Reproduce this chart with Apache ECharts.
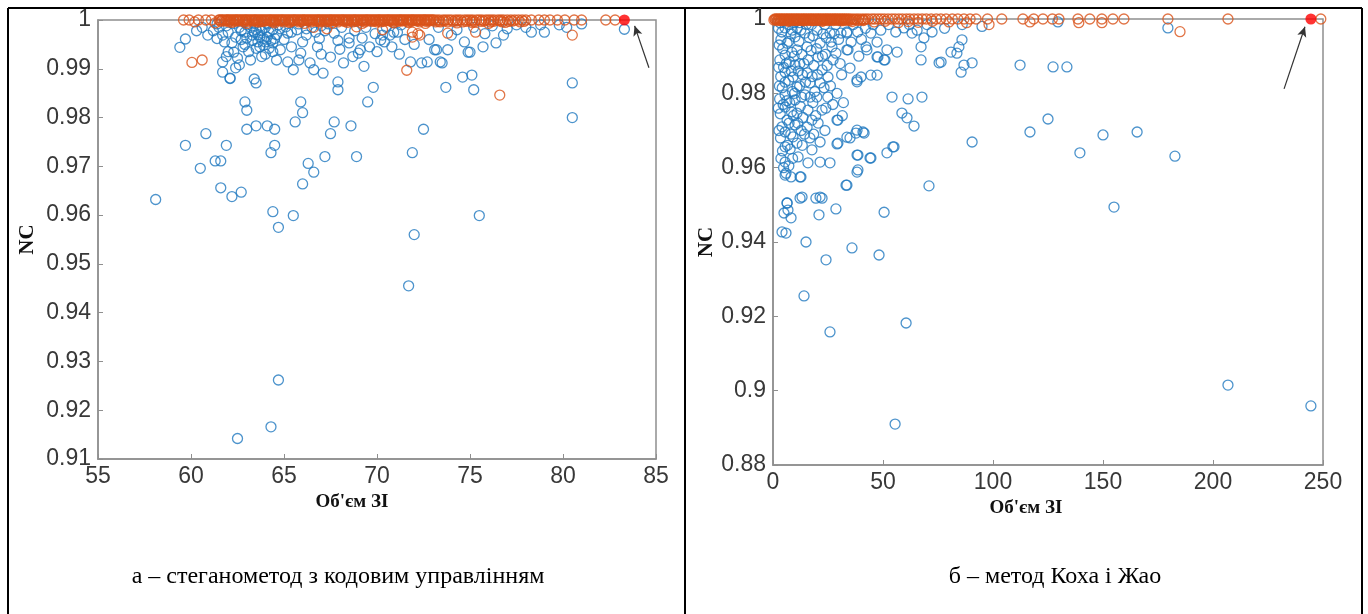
<!DOCTYPE html>
<html>
<head>
<meta charset="utf-8">
<script src="https://cdn.jsdelivr.net/npm/echarts@6/dist/echarts.min.js"></script>
<style>html,body{margin:0;padding:0;background:#fff}#c{width:1368px;height:614px}</style>
</head>
<body>
<div id="c"></div>
<script>
// ---------- DATA: panel а (стеганометод з кодовим управлінням) ----------
const aXAxis = { min: 55, max: 85, step: 5 };
const aYAxis = { min: 0.91, max: 1, step: 0.01 };

const aBlue = [
 [58.1,0.9632],[59.7,0.9743],[59.4,0.9944],[59.7,0.9961],[60.5,0.9696],[60.8,0.9767],[61.3,0.9711],[61.6,0.9711],
 [61.6,0.9656],[62.2,0.9638],[62.7,0.9647],[61.9,0.9743],[62.9,0.9832],[63.0,0.9815],[63.0,0.9776],[63.5,0.9783],
 [64.1,0.9783],[64.5,0.9776],[64.5,0.9743],[64.3,0.9728],[64.4,0.9607],[64.7,0.9575],[65.5,0.9599],[64.3,0.9166],
 [62.5,0.9142],[64.7,0.9262],[71.7,0.9455],[72.0,0.9560],[71.9,0.9728],[75.5,0.9599],[80.5,0.9800],[80.5,0.9871],
 [66.0,0.9664],[66.3,0.9706],[66.6,0.9688],[67.2,0.9720],[67.5,0.9767],[67.7,0.9791],[68.6,0.9783],[68.9,0.9720],
 [65.9,0.9832],[66.0,0.9810],[65.6,0.9791],[67.9,0.9857],[67.9,0.9873],[63.4,0.9879],[63.5,0.9871],[62.1,0.9880],
 [69.8,0.9862],[69.5,0.9832],[72.5,0.9776],[73.7,0.9862],[75.1,0.9887],[75.2,0.9857],
 [60.9,0.9969],[61.7,0.9969],[61.7,0.9914],[61.7,0.9893],[62.1,0.9881],[62.3,0.9934],[62.5,0.9922],[62.6,0.9908],
 [62.2,0.9953],[63.0,0.9963],[63.3,0.9969],[63.5,0.9980],[63.2,0.9918],[63.7,0.9945],[64.1,0.9965],[64.4,0.9953],
 [64.8,0.9939],[64.6,0.9918],[65.2,0.9973],[65.4,0.9945],[65.2,0.9914],[65.5,0.9898],[65.9,0.9932],[66.2,0.9969],
 [66.4,0.9912],[66.6,0.9898],[66.8,0.9945],[67.1,0.9891],[67.5,0.9924],[67.7,0.9973],[68.2,0.9912],[68.5,0.9953],
 [69.0,0.9932],[69.2,0.9963],[69.6,0.9945],[70.2,0.9959],[70.7,0.9969],[71.1,0.9975],[72.4,0.9912],[73.1,0.9939],
 [73.5,0.9912],[74.0,0.9969],[74.6,0.9883],[75.0,0.9934],[68.5,0.9963],[69.1,0.9939],[70.4,0.9955],[70.3,0.9969],
 [70.9,0.9975],[71.8,0.9914],[72.7,0.9914],[73.4,0.9914],[73.2,0.9939],[73.8,0.9939],[74.9,0.9934],[75.7,0.9945],
 [76.4,0.9953],[76.8,0.9969],[78.3,0.9975],[79.0,0.9975],[79.8,0.9990],[83.3,0.9981],
 [63.2,0.9985],[63.4,0.9975],[63.6,0.9970],[63.8,0.9978],[63.9,0.9962],[64.0,0.9985],[64.2,0.9975],[64.3,0.9958],
 [63.6,0.9955],[63.9,0.9948],[64.6,0.9970],[64.8,0.9982],[65.0,0.9960],[62.9,0.9975],[62.6,0.9985],[62.4,0.9965],
 [62.0,0.9975],[61.5,0.9985],[61.2,0.9978],[60.6,0.9985],[60.3,0.9978],[65.7,0.9980],[66.0,0.9955],[66.5,0.9985],
 [66.9,0.9962],[67.2,0.9978],[67.9,0.9958],[68.1,0.9985],[68.8,0.9978],[69.4,0.9985],[69.9,0.9972],[70.5,0.9985],
 [71.3,0.9990],[71.5,0.9960],[72.0,0.9950],[72.8,0.9960],[73.3,0.9985],[74.3,0.9980],[74.7,0.9955],[75.2,0.9985],
 [75.8,0.9972],[76.2,0.9988],[77.0,0.9982],[77.5,0.9990],[78.0,0.9985],[78.8,0.9990],[80.2,0.9985],[81.0,0.9992],
 [62.8,0.9945],[63.1,0.9935],[64.0,0.9930],[64.2,0.9942],[62.0,0.9935],[61.9,0.9925],[62.4,0.9902],[63.8,0.9925],
 [65.8,0.9918],[67.0,0.9930],[68.0,0.9940],[68.7,0.9925],[69.3,0.9905],[70.0,0.9935],[70.8,0.9945],[71.2,0.9930],
 [61.4,0.9992],[61.9,0.9988],[62.3,0.9993],[62.7,0.9978],[63.0,0.9990],[63.4,0.9993],[63.7,0.9987],[64.1,0.9992],
 [64.4,0.9980],[64.7,0.9990],[65.1,0.9986],[65.4,0.9975],[65.8,0.9992],[66.2,0.9982],[66.7,0.9975],[67.0,0.9988],
 [67.4,0.9992],[63.3,0.9958],[63.7,0.9965],[64.0,0.9955],[64.5,0.9962],[62.7,0.9960],[62.9,0.9950],[63.5,0.9942],
 [64.4,0.9935],[61.8,0.9955],[61.4,0.9962]
];
// orange points lying on NC = 1
const aOrangeTopX = [
 59.6,59.9,60.4,60.8,61.1,61.5,61.7,61.95,62.1,62.3,62.45,62.6,62.8,62.95,63.1,63.3,63.45,63.6,63.8,63.9,
 64.1,64.25,64.4,64.6,64.75,64.9,65.05,65.2,65.4,65.55,65.7,65.9,66.05,66.2,66.35,66.5,66.7,66.85,67.0,67.15,
 67.35,67.5,67.65,67.8,68.0,68.15,68.3,68.5,68.65,68.8,68.95,69.1,69.3,69.45,69.6,69.8,69.95,70.1,70.25,70.45,
 70.6,70.75,70.9,71.1,71.25,71.4,71.55,71.75,71.9,72.05,72.2,72.4,72.55,72.7,72.9,73.05,73.2,73.35,73.55,73.7,
 73.85,74.0,74.2,74.35,74.5,74.7,74.85,75.0,75.15,75.35,75.5,75.65,75.85,76.0,76.15,76.3,76.5,76.65,76.8,77.0,
 77.2,77.4,77.6,77.8,78.0,78.3,78.7,79.0,79.3,79.7,80.1,80.6,81.0,82.3,82.8,
 61.55,61.65,61.8,61.9,62.0,62.15,62.25,62.4,62.5,62.65,62.75,62.9,63.0,63.15,63.25,63.4,63.5,63.65,63.75,63.95,
 64.05,64.2,64.3,64.45,64.55,64.7,64.85,64.95,65.1,65.25,65.35,65.5,65.6,65.75,65.85,66.0,66.1,66.25,66.4,66.55,
 66.65,66.8,66.9,67.05,67.2,67.3,67.45,67.55,67.7,67.85,67.95,68.1,68.2,68.35,68.45,68.6,68.75,68.85,69.0,69.15,
 69.25,69.4,69.5,69.65,69.75,69.9,70.05,70.15,70.3,70.4,70.55,70.65,70.8,70.95,71.05,71.2,71.3,71.45,71.6,71.7,
 71.85,71.95,72.1,72.25,72.35,72.5,72.6,72.75,72.85,73.0
];
const aOrangeOther = [
 [60.05,0.9913],[60.6,0.9918],[71.6,0.9897],[76.6,0.9846],[80.5,0.9969],[71.9,0.9975],[72.3,0.9969],[73.8,0.9973],
 [75.3,0.9975],[71.9,0.9965],[72.2,0.9972],[60.2,0.9996],[61.3,0.9994],[62.2,0.9995],[63.0,0.9993],[63.7,0.9996],
 [64.5,0.9994],[65.3,0.9995],[66.1,0.9993],[66.9,0.9996],[67.6,0.9994],[68.4,0.9995],[69.2,0.9993],[70.0,0.9996],
 [70.9,0.9994],[71.7,0.9995],[72.6,0.9993],[73.4,0.9996],[74.3,0.9994],[75.1,0.9995],[76.0,0.9993],[76.9,0.9995],
 [66.6,0.9985],[67.3,0.9982],[68.9,0.9986],[70.3,0.9980],
 [61.6,0.9997],[61.85,0.9998],[62.05,0.9996],[62.35,0.9997],[62.55,0.9998],[62.85,0.9996],[63.05,0.9997],[63.35,0.9998],
 [63.55,0.9996],[63.85,0.9997],[64.0,0.9998],[64.35,0.9996],[64.5,0.9997],[64.8,0.9998],[65.0,0.9996],[65.3,0.9997],
 [65.45,0.9998],[65.8,0.9996],[65.95,0.9997],[66.3,0.9998],[66.45,0.9996],[66.75,0.9997],[66.95,0.9998],[67.25,0.9996],
 [67.4,0.9997],[67.75,0.9998],[67.9,0.9996],[68.25,0.9997],[68.4,0.9998],[68.7,0.9996],[68.9,0.9997],[69.2,0.9998],
 [69.35,0.9996],[69.7,0.9997],[69.85,0.9998],[70.2,0.9996],[70.35,0.9997],[70.7,0.9998],[70.85,0.9996],[71.15,0.9997],
 [71.35,0.9998],[71.65,0.9996],[71.85,0.9997],[72.15,0.9998],[72.3,0.9996],[72.65,0.9997],[72.8,0.9998],[73.15,0.9996],
 [73.3,0.9997],[73.6,0.9998],[73.8,0.9996],[74.1,0.9997],[74.3,0.9998],[74.6,0.9996],[74.8,0.9997],[75.1,0.9998],
 [75.25,0.9996],[75.6,0.9997],[75.75,0.9998],[76.1,0.9996],[76.25,0.9997],[76.6,0.9998],[76.75,0.9996],[77.1,0.9997],
 [77.3,0.9998],[77.7,0.9996],[77.9,0.9997]
];
const aHighlight = [[83.3, 1]];
const aArrow = [[84.62, 0.9902], [83.85, 0.9988]];

// ---------- DATA: panel б (метод Коха і Жао) ----------
const bXAxis = { min: 0, max: 250, step: 50 };
const bYAxis = { min: 0.88, max: 1, step: 0.02 };

const bBlue = [
 [14.1,0.9255],[24.1,0.9352],[35.9,0.9384],[48.2,0.9365],[25.9,0.9158],[60.5,0.9182],[55.5,0.8910],[206.8,0.9015],
 [244.5,0.8959],[112.3,0.9876],[127.3,0.9871],[133.6,0.9871],[125.0,0.9731],[116.8,0.9696],[139.5,0.9640],[150.0,0.9688],
 [165.5,0.9696],[155.0,0.9494],[182.7,0.9631],[179.5,0.9976],[129.5,0.9992],[4.1,0.9427],[15.0,0.9400],[5.0,0.9478],
 [6.8,0.9486],[8.2,0.9465],[6.4,0.9505],[12.3,0.9518],[19.5,0.9518],[22.3,0.9518],[20.9,0.9473],[28.6,0.9489],
 [50.5,0.9480],[33.2,0.9553],[70.9,0.9551],[5.9,0.9585],[8.2,0.9575],[12.7,0.9575],[38.2,0.9588],[38.2,0.9634],
 [44.5,0.9626],[51.8,0.9640],[55.0,0.9656],[29.1,0.9664],[33.6,0.9682],[37.7,0.9693],[41.4,0.9693],[29.1,0.9728],
 [58.6,0.9747],[60.9,0.9734],[64.1,0.9712],[54.1,0.9790],[61.4,0.9785],[67.7,0.9790],[90.5,0.9669],[29.1,0.9800],
 [38.2,0.9831],[40.0,0.9844],[44.5,0.9849],[47.3,0.9849],[85.5,0.9857],[86.8,0.9876],[90.5,0.9882],[67.3,0.9890],
 [75.5,0.9882],[76.4,0.9884],[80.9,0.9911],[84.5,0.9925],[85.9,0.9944],[83.6,0.9908],[67.3,0.9925],[68.6,0.9949],
 [63.2,0.9962],[51.8,0.9917],[50.5,0.9890],[47.3,0.9898],[56.4,0.9911],[42.3,0.9925],[35.5,0.9938],[33.6,0.9917],
 [28.6,0.9908],[26.4,0.9938],[30.9,0.9962],[33.6,0.9965],[44.5,0.9962],[49.0,0.9970],[59.5,0.9976],[65.5,0.9970],
 [72.3,0.9965],
 [5.5,0.9976],[6.4,0.9935],[5.5,0.9903],[5.5,0.9857],[5.5,0.9830],[5.5,0.9796],[5.5,0.9763],[6.4,0.9728],
 [5.5,0.9696],[5.5,0.9656],[5.5,0.9615],[5.5,0.9580],[6.4,0.9505],[5.9,0.9424],[10.0,0.9952],[10.9,0.9917],
 [10.0,0.9876],[9.1,0.9844],[10.9,0.9817],[10.0,0.9782],[10.9,0.9747],[10.0,0.9715],[9.1,0.9683],[10.9,0.9666],
 [11.4,0.9629],[12.3,0.9575],[13.2,0.9521],[14.5,0.9962],[15.5,0.9925],[15.9,0.9890],[15.5,0.9855],[16.8,0.9828],
 [14.5,0.9796],[15.9,0.9755],[17.7,0.9728],[15.5,0.9709],[16.8,0.9680],[17.7,0.9648],[15.9,0.9613],[21.4,0.9521],
 [20.0,0.9970],[21.4,0.9935],[20.5,0.9898],[22.3,0.9863],[21.4,0.9828],[22.3,0.9755],[20.5,0.9720],[21.4,0.9669],
 [21.4,0.9615],[25.9,0.9962],[26.8,0.9925],[27.3,0.9890],[25.0,0.9844],[29.5,0.9728],[29.5,0.9666],[25.9,0.9613],
 [33.6,0.9962],[34.1,0.9917],[35.0,0.9868],[38.2,0.9836],[35.0,0.9680],[38.2,0.9701],[40.9,0.9696],[38.6,0.9634],
 [38.6,0.9594],[33.6,0.9553],[42.7,0.9917],[47.3,0.9938],[47.7,0.9898],[50.9,0.9890],[44.1,0.9626],[54.5,0.9656],
 [3.2,0.9990],[4.0,0.9965],[3.6,0.9945],[4.4,0.9920],[3.1,0.9890],[4.8,0.9870],[3.5,0.9845],[4.2,0.9815],
 [3.0,0.9785],[4.6,0.9770],[3.3,0.9745],[4.1,0.9710],[3.4,0.9680],[4.3,0.9645],[3.6,0.9625],[4.8,0.9600],
 [7.5,0.9985],[8.2,0.9960],[7.2,0.9940],[8.6,0.9910],[7.4,0.9885],[8.3,0.9860],[7.1,0.9835],[8.8,0.9805],
 [7.6,0.9775],[8.4,0.9750],[7.3,0.9720],[8.1,0.9690],[7.8,0.9650],[8.9,0.9625],[7.2,0.9605],[12.0,0.9990],
 [12.6,0.9970],[11.8,0.9940],[13.1,0.9905],[12.2,0.9880],[13.4,0.9850],[12.1,0.9820],[13.0,0.9790],[12.4,0.9765],
 [13.6,0.9735],[12.8,0.9700],[13.3,0.9660],[17.5,0.9985],[18.2,0.9955],[17.3,0.9915],[18.6,0.9875],[17.8,0.9845],
 [19.0,0.9805],[18.1,0.9775],[19.4,0.9740],[18.5,0.9690],[23.5,0.9985],[24.2,0.9950],[23.8,0.9905],[24.6,0.9875],
 [23.2,0.9815],[24.9,0.9790],[24.0,0.9760],[23.6,0.9700],[28.5,0.9985],[29.8,0.9945],[30.5,0.9880],[31.2,0.9850],
 [32.0,0.9775],[31.5,0.9740],[36.5,0.9985],[38.5,0.9965],[40.2,0.9945],[39.0,0.9900],[42.0,0.9975],[45.5,0.9985],
 [52.5,0.9985],[55.8,0.9965],[62.0,0.9985],[70.0,0.9985],[78.0,0.9975],[86.0,0.9985],[95.0,0.9980],
 [2.5,0.9975],[2.8,0.9930],[2.6,0.9870],[2.9,0.9820],[2.4,0.9760],[2.7,0.9700],[6.0,0.9880],[6.3,0.9780],
 [6.6,0.9660],[9.5,0.9990],[9.6,0.9900],[9.8,0.9800],[9.3,0.9740],[11.5,0.9860],[11.2,0.9720],[14.0,0.9880],
 [14.8,0.9830],[14.3,0.9690],[16.5,0.9950],[16.9,0.9790],[19.8,0.9920],[20.2,0.9850],[19.9,0.9790],[22.8,0.9960],
 [22.5,0.9900],[26.1,0.9820],[27.8,0.9960],[27.2,0.9770],[5.2,0.9995],[8.7,0.9970],[11.0,0.9975],[15.1,0.9985]
];
const bOrangeTopX = [
 0.8,1.5,2.3,3.0,3.8,4.5,5.3,6.1,6.8,7.6,8.4,9.1,9.9,10.7,11.4,12.2,13.0,13.8,14.5,15.3,
 16.1,16.9,17.6,18.4,19.2,20.0,20.7,21.5,22.3,23.1,23.9,24.6,25.4,26.2,27.0,27.8,28.5,29.3,30.1,30.9,
 31.7,32.5,33.3,34.2,35.1,36.4,37.8,39.1,40.6,42.0,43.3,44.9,46.2,47.7,49.1,50.6,52.3,54.0,55.5,57.2,
 58.8,60.6,62.2,64.1,65.9,67.8,69.7,71.9,74.2,76.3,78.7,81.5,84.0,86.8,89.6,92.3,97.5,104.0,113.6,118.5,
 122.7,127.0,130.0,138.6,144.0,149.5,154.5,159.5,179.5,206.8,249.0
];
const bOrangeOther = [
 [116.8,0.9992],[139.0,0.9990],[149.5,0.9990],[185.0,0.9966],[3.5,0.9996],[7.0,0.9994],[10.5,0.9997],[14.0,0.9995],
 [18.0,0.9996],[22.5,0.9994],[26.0,0.9997],[31.0,0.9995],[36.0,0.9993],[41.0,0.9996],[46.0,0.9992],[51.0,0.9994],
 [57.0,0.9990],[61.5,0.9993],[66.0,0.9991],[72.5,0.9994],[80.0,0.9992],[88.0,0.9990],[98.2,0.9985],
 [0.4,0.9997],[1.1,0.9998],[1.9,0.9996],[2.7,0.9997],[3.4,0.9998],[4.2,0.9996],[4.9,0.9997],[5.7,0.9998],
 [6.5,0.9996],[7.2,0.9997],[8.0,0.9998],[8.8,0.9996],[9.5,0.9997],[10.3,0.9998],[11.1,0.9996],[11.8,0.9997],
 [12.6,0.9998],[13.4,0.9996],[14.1,0.9997],[14.9,0.9998],[15.7,0.9996],[16.5,0.9997],[17.2,0.9998],[18.0,0.9996],
 [18.8,0.9997],[19.6,0.9998],[20.3,0.9996],[21.1,0.9997],[21.9,0.9998],[22.7,0.9996],[23.5,0.9997],[24.2,0.9998],
 [25.0,0.9996],[25.8,0.9997],[26.6,0.9998],[27.4,0.9996],[28.1,0.9997],[28.9,0.9998],[29.7,0.9996],[30.5,0.9997],
 [31.3,0.9998],[32.1,0.9996],[32.9,0.9997],[33.7,0.9998],[34.6,0.9996],[35.8,0.9997],[37.1,0.9998],[38.5,0.9996],
 [39.8,0.9997],[41.3,0.9998]
];
const bHighlight = [[244.5, 1]];
const bArrow = [[232.3, 0.9812], [241.8, 0.9979]];

const yName = 'NC';
const xName = "Об'єм ЗІ";
const captionA = 'а – стеганометод з кодовим управлінням';
const captionB = 'б – метод Коха і Жао';

// ---------- STYLE ----------
const BLUE = '#1f78bf';
const ORANGE = '#d95319';
const AXIS = '#8f8f8f';
const TICKTXT = '#383838';

function xAxisCfg(r, gridIndex, padRight) {
  return {
    type: 'value', gridIndex, min: r.min, max: r.max, interval: r.step,
    name: xName, nameLocation: 'middle', nameGap: 32,
    nameTextStyle: { fontFamily: 'Liberation Serif', fontWeight: 'bold', fontSize: 19, color: '#111', padding: [0, padRight, 0, 0] },
    axisLine: { show: true, lineStyle: { color: AXIS, width: 1.5 } },
    axisTick: { show: true, inside: true, length: 5, lineStyle: { color: AXIS } },
    axisLabel: { fontFamily: 'Liberation Sans', fontSize: 23, color: TICKTXT, margin: 6 },
    splitLine: { show: false }
  };
}
function yAxisCfg(r, gridIndex, gap) {
  return {
    type: 'value', gridIndex, min: r.min, max: r.max, interval: r.step,
    name: yName, nameLocation: 'middle', nameGap: gap,
    nameTextStyle: { fontFamily: 'Liberation Serif', fontWeight: 'bold', fontSize: 21, color: '#111' },
    axisLine: { show: true, lineStyle: { color: AXIS, width: 1.5 } },
    axisTick: { show: true, inside: true, length: 5, lineStyle: { color: AXIS } },
    axisLabel: { fontFamily: 'Liberation Sans', fontSize: 23, color: TICKTXT, margin: 7,
                 formatter: v => String(+v.toFixed(2)) },
    splitLine: { show: false }
  };
}
function openCircles(name, data, color, idx) {
  return {
    name, type: 'scatter', xAxisIndex: idx, yAxisIndex: idx, data, clip: false,
    symbol: 'circle', symbolSize: 10, silent: true, large: false,
    itemStyle: { color: 'rgba(0,0,0,0)', borderColor: color, borderWidth: 1.3, opacity: 0.8 }
  };
}
function highlight(data, arrow, idx) {
  return {
    type: 'scatter', xAxisIndex: idx, yAxisIndex: idx, data, clip: false,
    symbol: 'circle', symbolSize: 11, silent: true, z: 5,
    itemStyle: { color: '#ff0000' },
    markLine: {
      silent: true, symbol: ['none', 'arrow'], symbolSize: [7, 10],
      lineStyle: { color: '#333', width: 1.2, type: 'solid' },
      label: { show: false },
      data: [[{ coord: arrow[0] }, { coord: arrow[1] }]]
    }
  };
}

const chart = echarts.init(document.getElementById('c'), null, { renderer: 'canvas' });
chart.setOption({
  animation: false,
  backgroundColor: '#fff',
  grid: [
    { left: 98, top: 20, width: 558, height: 439, show: true, borderColor: AXIS, borderWidth: 1.5, backgroundColor: 'transparent' },
    { left: 773, top: 19, width: 550, height: 446, show: true, borderColor: AXIS, borderWidth: 1.5, backgroundColor: 'transparent' }
  ],
  xAxis: [xAxisCfg(aXAxis, 0, 50), xAxisCfg(bXAxis, 1, 44)],
  yAxis: [yAxisCfg(aYAxis, 0, 60), yAxisCfg(bYAxis, 1, 55)],
  series: [
    openCircles('a-blue', aBlue, BLUE, 0),
    openCircles('a-orange', aOrangeTopX.map(x => [x, 1]).concat(aOrangeOther), ORANGE, 0),
    highlight(aHighlight, aArrow, 0),
    openCircles('b-blue', bBlue, BLUE, 1),
    openCircles('b-orange', bOrangeTopX.map(x => [x, 1]).concat(bOrangeOther), ORANGE, 1),
    highlight(bHighlight, bArrow, 1)
  ],
  graphic: [
    { type: 'line', shape: { x1: 8, y1: 8, x2: 1362, y2: 8 }, style: { stroke: '#000', lineWidth: 2 } },
    { type: 'line', shape: { x1: 8, y1: 8, x2: 8, y2: 614 }, style: { stroke: '#000', lineWidth: 2 } },
    { type: 'line', shape: { x1: 685, y1: 8, x2: 685, y2: 614 }, style: { stroke: '#000', lineWidth: 2 } },
    { type: 'line', shape: { x1: 1362, y1: 8, x2: 1362, y2: 614 }, style: { stroke: '#000', lineWidth: 2 } },
    { type: 'text', x: 338, y: 577, style: { text: captionA, fontFamily: 'Liberation Serif', fontSize: 24, fill: '#000', align: 'center', verticalAlign: 'middle' } },
    { type: 'text', x: 1055, y: 577, style: { text: captionB, fontFamily: 'Liberation Serif', fontSize: 24, fill: '#000', align: 'center', verticalAlign: 'middle' } }
  ]
});
</script>
</body>
</html>
